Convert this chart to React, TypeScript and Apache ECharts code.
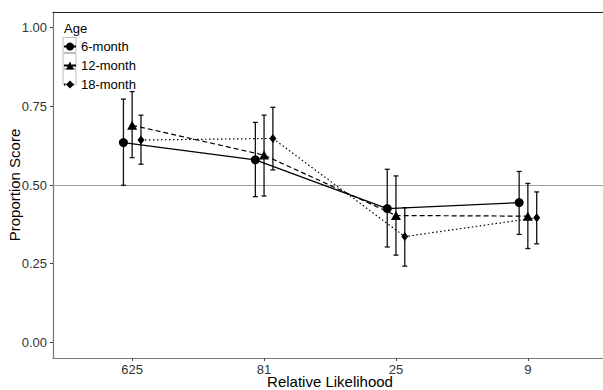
import React, { useEffect, useRef } from 'react';
import * as echarts from 'echarts';

const categories = ['625', '81', '25', '9'];
const seriesNames = ['6-month', '12-month', '18-month'];
const yTicks = [0, 0.25, 0.5, 0.75, 1];
const referenceLine = 0.5;

const mean6 = [0.635, 0.58, 0.425, 0.444];
const lo6 = [0.499, 0.463, 0.303, 0.343];
const hi6 = [0.773, 0.699, 0.55, 0.543];

const mean12 = [0.69, 0.595, 0.403, 0.401];
const lo12 = [0.587, 0.465, 0.277, 0.298];
const hi12 = [0.797, 0.722, 0.529, 0.505];

const mean18 = [0.643, 0.648, 0.336, 0.396];
const lo18 = [0.566, 0.548, 0.242, 0.313];
const hi18 = [0.722, 0.747, 0.428, 0.478];

const FONT = '"Liberation Sans", Arial, Helvetica, sans-serif';

export default function App() {
  const ref = useRef<HTMLDivElement>(null);
  useEffect(() => {
    if (!ref.current) return;
    const chart = echarts.init(ref.current, null, { renderer: 'svg' });
    const groups = [
      { name: seriesNames[0], mean: mean6, lo: lo6, hi: hi6, dodge: -0.066, symbol: 'circle', size: 9, dash: 'solid' },
      { name: seriesNames[1], mean: mean12, lo: lo12, hi: hi12, dodge: 0, symbol: 'triangle', size: [10, 9], dash: [5, 3] },
      { name: seriesNames[2], mean: mean18, lo: lo18, hi: hi18, dodge: 0.067, symbol: 'diamond', size: [7, 9], dash: [1.5, 2.5] },
    ];
    const series: any[] = [];
    groups.forEach((g, gi) => {
      series.push({
        type: 'custom',
        name: g.name + ' CI',
        silent: true,
        data: categories.map((_, i) => [i + g.dodge, g.lo[i], g.hi[i]]),
        encode: { x: 0, y: [1, 2] },
        renderItem: (params: any, api: any) => {
          const x = api.value(0);
          const p1 = api.coord([x, api.value(1)]);
          const p2 = api.coord([x, api.value(2)]);
          const cw = 2.5;
          const st = { stroke: '#111', lineWidth: 1.3 };
          return {
            type: 'group',
            children: [
              { type: 'line', shape: { x1: p1[0], y1: p1[1], x2: p2[0], y2: p2[1] }, style: st },
              { type: 'line', shape: { x1: p1[0] - cw, y1: p1[1], x2: p1[0] + cw, y2: p1[1] }, style: st },
              { type: 'line', shape: { x1: p2[0] - cw, y1: p2[1], x2: p2[0] + cw, y2: p2[1] }, style: st },
            ],
          };
        },
        z: 2,
      });
      series.push({
        type: 'line',
        name: g.name,
        data: categories.map((_, i) => [i + g.dodge, g.mean[i]]),
        symbol: g.symbol,
        symbolSize: g.size,
        showSymbol: true,
        itemStyle: { color: '#000' },
        lineStyle: { color: '#000', width: 1.2, type: g.dash as any },
        z: 3,
        markLine: gi === 0 ? {
          silent: true,
          symbol: 'none',
          label: { show: false },
          lineStyle: { color: '#a0a0a0', width: 1, type: 'solid' },
          data: [{ yAxis: referenceLine }],
          z: 1,
        } : undefined,
      });
    });

    chart.setOption({
      animation: false,
      textStyle: { fontFamily: FONT },
      grid: { left: 53, right: -4, top: 12, bottom: 32, containLabel: false, outerBoundsMode: 'none' },
      xAxis: [
        {
          type: 'value',
          min: -0.6,
          max: 3.6,
          splitLine: { show: false },
          axisLine: { show: true, onZero: false, lineStyle: { color: '#777', width: 1.2 } },
          axisTick: { show: true, customValues: [0, 1, 2, 3], length: 3, lineStyle: { color: '#444' } },
          axisLabel: {
            customValues: [0, 1, 2, 3],
            formatter: (v: number) => categories[Math.round(v)],
            color: '#333',
            fontSize: 13,
            margin: 5,
            fontFamily: FONT,
          },
          name: 'Relative Likelihood',
          nameLocation: 'middle',
          nameGap: 16,
          nameMoveOverlap: false,
          nameTextStyle: { color: '#000', fontSize: 15, fontFamily: FONT },
        },
        {
          type: 'value',
          position: 'top',
          min: -0.6,
          max: 3.6,
          splitLine: { show: false },
          axisLine: { show: true, onZero: false, lineStyle: { color: '#222', width: 1.2 } },
          axisTick: { show: false },
          axisLabel: { show: false },
        },
      ],
      yAxis: {
        type: 'value',
        min: -0.05,
        max: 1.05,
        splitLine: { show: false },
        axisLine: { show: true, onZero: false, lineStyle: { color: '#777', width: 1.2 } },
        axisTick: { show: true, customValues: yTicks, length: 3, lineStyle: { color: '#444' } },
        axisLabel: {
          customValues: yTicks,
          formatter: (v: number) => v.toFixed(2),
          color: '#333',
          fontSize: 13,
          margin: 6,
          fontFamily: FONT,
        },
        name: 'Proportion Score',
        nameLocation: 'middle',
        nameGap: 31,
        nameMoveOverlap: false,
        nameTextStyle: { color: '#000', fontSize: 15, fontFamily: FONT },
      },
      legend: {
        data: seriesNames,
        orient: 'vertical',
        left: 63,
        top: 40,
        padding: 0,
        itemWidth: 12,
        itemHeight: 10,
        itemGap: 6,
        selectedMode: false,
        textStyle: { fontSize: 13, color: '#000', fontFamily: FONT },
      },
      graphic: [
        { type: 'text', left: 64, top: 22, style: { text: 'Age', fontSize: 13, fill: '#000', fontFamily: FONT } },
        ...seriesNames.map((_, i) => ({
          type: 'rect',
          shape: { x: 63, y: 37.5 + i * 16, width: 13, height: 15 },
          style: { fill: 'none', stroke: '#bdbdbd', lineWidth: 1 },
          z: -1,
          silent: true,
        })),
      ],
      series,
    });
    return () => chart.dispose();
  }, []);
  return <div ref={ref} style={{ position: 'fixed', left: 0, top: 0, width: 603, height: 390, background: '#fff' }} />;
}
